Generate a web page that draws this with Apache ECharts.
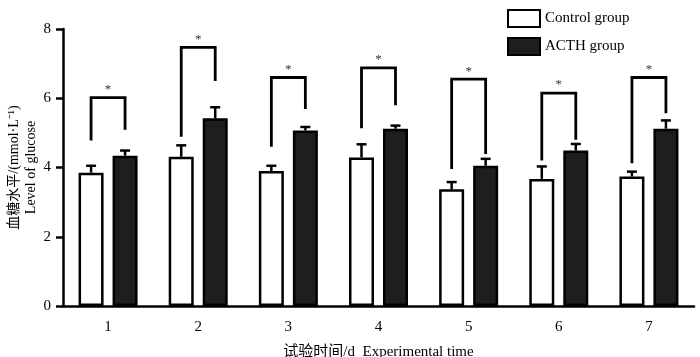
<!DOCTYPE html>
<html>
<head>
<meta charset="utf-8">
<script src="https://cdn.jsdelivr.net/npm/echarts@6/dist/echarts.min.js"></script>
<style>
html, body { margin: 0; padding: 0; background: #fff; }
#chart { width: 700px; height: 357px; }
</style>
</head>
<body>
<div id="chart"></div>
<script>
var days = ['1', '2', '3', '4', '5', '6', '7'];
var controlMean = [3.85, 4.31, 3.9, 4.29, 3.37, 3.67, 3.74];
var controlErr = [0.2, 0.33, 0.15, 0.38, 0.21, 0.36, 0.14];
var acthMean = [4.34, 5.42, 5.07, 5.12, 4.05, 4.49, 5.12];
var acthErr = [0.15, 0.32, 0.1, 0.09, 0.2, 0.19, 0.24];
// significance brackets: top, left leg end, right leg end
var bracketTop = [6.02, 7.47, 6.6, 6.88, 6.55, 6.15, 6.6];
var bracketLeft = [4.78, 4.89, 4.6, 5.13, 3.96, 4.2, 4.12];
var bracketRight = [5.09, 6.5, 5.69, 5.8, 4.39, 4.8, 5.57];

var BAR_W = 25, BAR_GAP = 9;
var OFF = (BAR_W + BAR_GAP) / 2;
var FONT = '"Liberation Serif", "Noto Sans CJK SC", serif';

function errData(mean, err) {
	return mean.map(function(m, i) { return [i, m, err[i]]; });
}

function errRender(sign) {
	return function(params, api) {
		var i = api.value(0), m = api.value(1), e = api.value(2);
		var p0 = api.coord([i, m]);
		var p1 = api.coord([i, m + e]);
		var x = p0[0] + sign * OFF;
		var st = { stroke: '#000', lineWidth: 2.5 };
		return {
			type: 'group',
			children: [
				{ type: 'line', shape: { x1: x, y1: p0[1], x2: x, y2: p1[1] }, style: st },
				{ type: 'line', shape: { x1: x - 5, y1: p1[1], x2: x + 5, y2: p1[1] }, style: st }
			]
		};
	};
}

var bracketData = days.map(function(d, i) {
	return [i, bracketTop[i], bracketLeft[i], bracketRight[i]];
});

echarts.init(document.getElementById('chart')).setOption({
	animation: false,
	textStyle: { fontFamily: FONT },
	grid: { left: 63, right: 6, top: 29, bottom: 51, containLabel: false, outerBoundsMode: 'none' },
	legend: {
		orient: 'vertical',
		left: 502,
		top: 4,
		icon: 'rect',
		itemWidth: 32,
		itemHeight: 17,
		itemGap: 9,
		textStyle: { fontFamily: FONT, fontSize: 15, color: '#000' },
		data: ['Control group', 'ACTH group']
	},
	xAxis: {
		type: 'category',
		data: days,
		name: '试验时间/d  Experimental time',
		nameLocation: 'middle',
		nameGap: 39,
		nameMoveOverlap: false,
		nameTextStyle: { fontFamily: FONT, fontSize: 15, color: '#000' },
		axisLine: { lineStyle: { color: '#000', width: 2.5 } },
		axisTick: { alignWithLabel: true, length: 6, lineStyle: { width: 2.5 } },
		axisLabel: { fontFamily: FONT, fontSize: 15, color: '#000', margin: 14 }
	},
	yAxis: {
		type: 'value',
		min: 0,
		max: 8,
		interval: 2,
		name: '血糖水平/(mmol·L⁻¹)\nLevel of glucose',
		nameLocation: 'middle',
		nameRotate: 90,
		nameGap: 23,
		nameMoveOverlap: false,
		nameTextStyle: { fontFamily: FONT, fontSize: 14, color: '#000', lineHeight: 17 },
		splitLine: { show: false },
		axisLine: { show: true, lineStyle: { color: '#000', width: 2.5 } },
		axisTick: { show: true, length: 7, lineStyle: { width: 2.5 } },
		axisLabel: { fontFamily: FONT, fontSize: 15, color: '#000', margin: 12 }
	},
	series: [{
		name: 'Control group',
		type: 'bar',
		barWidth: BAR_W,
		barGap: (BAR_GAP / BAR_W * 100) + '%',
		itemStyle: { color: '#fff', borderColor: '#000', borderWidth: 2.5 },
		data: controlMean
	}, {
		name: 'ACTH group',
		type: 'bar',
		barWidth: BAR_W,
		itemStyle: { color: '#1e1e1e', borderColor: '#000', borderWidth: 2.5 },
		data: acthMean
	}, {
		type: 'custom',
		renderItem: errRender(-1),
		data: errData(controlMean, controlErr),
		z: 3
	}, {
		type: 'custom',
		renderItem: errRender(1),
		data: errData(acthMean, acthErr),
		z: 3
	}, {
		type: 'custom',
		data: bracketData,
		z: 3,
		renderItem: function(params, api) {
			var i = api.value(0);
			var top = api.coord([i, api.value(1)]);
			var yl = api.coord([i, api.value(2)])[1];
			var yr = api.coord([i, api.value(3)])[1];
			var xl = top[0] - OFF, xr = top[0] + OFF;
			return {
				type: 'group',
				children: [{
					type: 'polyline',
					shape: { points: [[xl, yl], [xl, top[1]], [xr, top[1]], [xr, yr]] },
					style: { stroke: '#000', lineWidth: 2.8, fill: null }
				}, {
					type: 'text',
					style: {
						text: '*', x: top[0], y: top[1] - 8,
						align: 'center', verticalAlign: 'middle',
						fontSize: 13, fontFamily: FONT, fill: '#333'
					}
				}]
			};
		}
	}]
});
</script>
</body>
</html>
